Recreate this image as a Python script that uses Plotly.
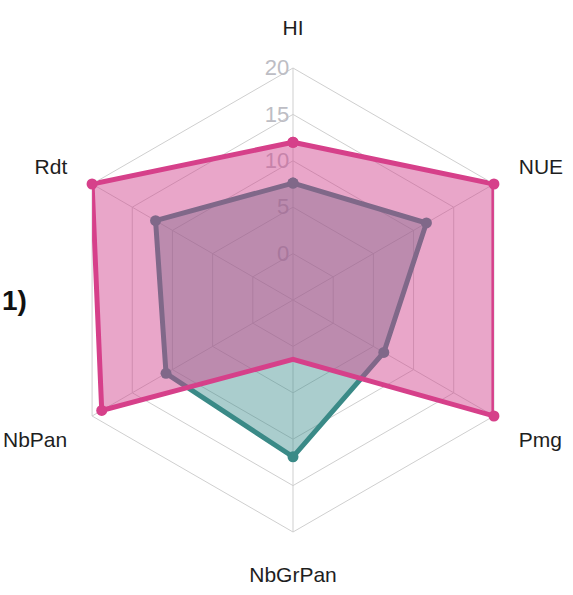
import plotly.graph_objects as go

# Radar axes (clockwise from the top)
categories = ["HI", "NUE", "Pmg", "NbGrPan", "NbPan", "Rdt"]

# Series values
teal_values = [7.6, 11.6, 6.3, 11.9, 10.8, 12.1]
pink_values = [12.0, 20.0, 20.0, 1.4, 18.8, 20.0]

# Radial ticks
radial_ticks = [0, 5, 10, 15, 20]
radial_range = [-5, 20]


def closed(seq):
    return list(seq) + [seq[0]]


fig = go.Figure()

fig.add_trace(go.Scatterpolar(
    r=closed(teal_values),
    theta=closed(categories),
    mode="lines+markers",
    fill="toself",
    fillcolor="rgba(58,140,138,0.43)",
    line=dict(color="#3a8a87", width=5),
    marker=dict(color="#3a8a87", size=11),
    showlegend=False,
))

fig.add_trace(go.Scatterpolar(
    r=closed(pink_values),
    theta=closed(categories),
    mode="lines+markers",
    fill="toself",
    fillcolor="rgba(208,65,140,0.47)",
    line=dict(color="#d6408a", width=5),
    marker=dict(color="#d6408a", size=11),
    showlegend=False,
))

W, H = 573, 595
cx, cy, R = 293, 300, 232

fig.update_layout(
    width=W,
    height=H,
    margin=dict(l=0, r=0, t=0, b=0),
    paper_bgcolor="white",
    plot_bgcolor="white",
    font=dict(family="Liberation Sans, Arial, sans-serif"),
    polar=dict(
        domain=dict(
            x=[(cx - R) / W, (cx + R) / W],
            y=[(H - cy - R) / H, (H - cy + R) / H],
        ),
        bgcolor="white",
        gridshape="linear",
        angularaxis=dict(
            rotation=90,
            direction="clockwise",
            categoryorder="array",
            categoryarray=categories,
            showline=True,
            linecolor="#cfcfcf",
            linewidth=1,
            gridcolor="#cfcfcf",
            gridwidth=1,
            ticks="outside",
            ticklen=24,
            tickcolor="rgba(0,0,0,0)",
            tickfont=dict(size=21, color="#1e1e1e"),
            layer="below traces",
        ),
        radialaxis=dict(
            range=radial_range,
            tickvals=radial_ticks,
            ticktext=[str(v) for v in radial_ticks],
            angle=90,
            tickangle=90,
            side="counterclockwise",
            showline=False,
            gridcolor="#cfcfcf",
            gridwidth=1,
            ticks="",
            tickfont=dict(size=22, color="#bdbdc4"),
            layer="below traces",
        ),
    ),
    annotations=[
        dict(
            text="<b>1)</b>",
            x=0, y=(H - 300) / H,
            xref="paper", yref="paper",
            xanchor="left", yanchor="middle",
            showarrow=False,
            font=dict(size=28, color="#111111",
                      family="Liberation Sans, Arial, sans-serif"),
        )
    ],
)

fig.write_html("out.html")
